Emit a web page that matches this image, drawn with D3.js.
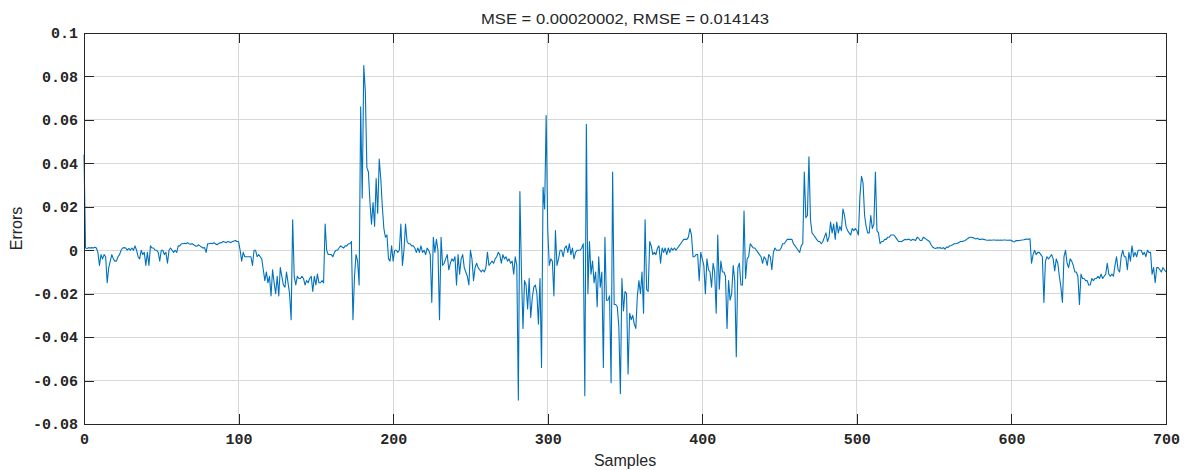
<!DOCTYPE html>
<html>
<head>
<meta charset="utf-8">
<script src="https://cdn.jsdelivr.net/npm/d3@7"></script>
<style>
  body { margin: 0; background: #fff; }
  .tick text { font-family: "Liberation Mono", "DejaVu Sans Mono", monospace; font-weight: bold; font-size: 15px; fill: #262626; }
  .lbl { font-family: "Liberation Sans", Arial, sans-serif; fill: #262626; }
</style>
</head>
<body>
<svg id="chart" width="1188" height="470"></svg>
<script>
var w = 1188;
var h = 470;

// prediction error per sample (sample index = position)
var errors = [
  0.044, 0.001, 0.0008, 0.0012, 0.001, 0.0012, 0.001, 0.0014, 0.001, -0.001,
  -0.007, -0.002, -0.004, -0.002, -0.003, -0.015, -0.008, -0.005, -0.002, -0.004,
  -0.005, -0.005, -0.003, -0.002, 0.0, 0.001, 0.0012, 0.001, 0.0, 0.0008,
  0.0, 0.001, 0.0, 0.002, 0.0, -0.003, -0.004, 0.0, -0.002, -0.001,
  -0.007, -0.001, -0.007, 0.002, 0.001, 0.001, 0.0, 0.0, -0.001, -0.005,
  0.0, 0.0, -0.002, -0.001, -0.006, 0.0, 0.001, 0.0, -0.001, 0.0,
  -0.001, 0.002, 0.002, 0.003, 0.003, 0.0032, 0.003, 0.0035, 0.003, 0.0028,
  0.003, 0.0025, 0.002, 0.0018, 0.0025, 0.002, 0.0015, 0.001, 0.0012, -0.001,
  0.003, 0.003, 0.0032, 0.003, 0.0035, 0.003, 0.0025, 0.003, 0.0034, 0.0035,
  0.004, 0.0038, 0.0035, 0.004, 0.0038, 0.0035, 0.004, 0.0042, 0.0045, 0.004,
  0.004, 0.0, -0.005, -0.001, -0.003, -0.003, -0.003, -0.003, -0.003, -0.007,
  0.0, 0.0, -0.003, -0.002, -0.003, -0.004, -0.009, -0.014, -0.01, -0.015,
  -0.012, -0.021, -0.009, -0.015, -0.02, -0.012, -0.021, -0.008, -0.012, -0.016,
  -0.017, -0.01, -0.015, -0.02, -0.032, 0.014, -0.012, -0.016, -0.012, -0.013,
  -0.013, -0.012, -0.013, -0.016, -0.014, -0.015, -0.013, -0.012, -0.019, -0.012,
  -0.016, -0.011, -0.015, -0.015, -0.014, -0.015, 0.012, 0.0, -0.002, -0.002,
  -0.002, -0.003, -0.001, 0.0, 0.0, 0.001, 0.002, 0.0015, 0.001, 0.002,
  0.002, 0.003, 0.003, 0.004, -0.032, -0.012, -0.002, -0.005, -0.016, 0.066,
  0.024, 0.085, 0.073, 0.038, 0.036, 0.022, 0.012, 0.022, 0.011, 0.033,
  0.017, 0.042, 0.033, 0.02, 0.01, 0.006, 0.007, -0.004, -0.005, 0.002,
  -0.005, 0.0, 0.0, -0.001, 0.0, 0.012, -0.007, 0.0, 0.012, 0.004,
  0.003, 0.003, 0.002, 0.002, 0.001, -0.001, 0.001, -0.001, 0.002, -0.001,
  0.0, -0.002, 0.001, 0.0, -0.002, -0.024, 0.006, -0.001, 0.005, 0.0,
  -0.032, 0.006, -0.007, -0.006, -0.004, -0.002, -0.009, -0.006, -0.004, -0.005,
  -0.003, -0.016, -0.002, -0.011, -0.004, -0.002, -0.008, -0.01, -0.012, -0.016,
  0.0, -0.004, -0.014, -0.008, -0.006, -0.008, -0.009, -0.01, -0.009, -0.01,
  -0.008, -0.001, -0.007, -0.006, -0.005, -0.006, -0.004, -0.003, -0.001, -0.002,
  -0.006, -0.002, -0.004, -0.003, -0.005, -0.004, -0.006, -0.005, -0.011, -0.003,
  -0.007, -0.069, 0.027, -0.01, -0.036, -0.014, -0.016, -0.027, -0.013, -0.031,
  -0.022, -0.017, -0.016, -0.02, -0.034, -0.013, -0.054, 0.029, 0.019, 0.062,
  0.01, -0.007, -0.004, -0.005, -0.021, 0.009, -0.007, -0.004, 0.0, 0.0,
  -0.003, 0.001, 0.002, -0.001, 0.003, -0.002, 0.001, -0.004, -0.001, 0.0,
  0.0, 0.0, 0.001, 0.003, -0.067, 0.058, -0.02, 0.004, -0.011, -0.005,
  -0.015, -0.01, -0.026, -0.003, -0.017, -0.01, -0.054, 0.006, -0.023, -0.023,
  -0.021, -0.061, 0.036, -0.025, -0.025, -0.026, -0.035, -0.066, -0.013, -0.028,
  -0.019, -0.02, -0.057, -0.029, -0.032, -0.03, -0.034, -0.036, -0.021, -0.014,
  -0.02, -0.01, -0.029, 0.014, -0.018, -0.019, 0.004, 0.002, -0.002, -0.001,
  -0.002, 0.001, 0.002, -0.006, 0.001, -0.001, 0.001, -0.002, 0.001, -0.001,
  0.001, 0.0, 0.001, 0.0, 0.001, 0.002, 0.003, 0.004, 0.005, 0.005,
  0.005, 0.006, 0.01, 0.007, -0.003, -0.003, -0.002, -0.002, -0.014, -0.001,
  -0.004, -0.007, -0.02, -0.004, -0.009, -0.01, -0.017, -0.006, -0.01, -0.029,
  0.007, -0.018, -0.005, -0.01, -0.01, -0.012, -0.036, -0.014, -0.023, -0.02,
  -0.007, -0.014, -0.049, -0.008, -0.006, -0.016, -0.016, 0.018, -0.013, -0.004,
  -0.003, 0.003, 0.002, 0.001, 0.001, 0.0, -0.001, -0.002, -0.003, -0.006,
  -0.003, -0.004, -0.007, -0.002, -0.003, -0.009, -0.001, 0.001, 0.0, 0.0,
  0.0, 0.001, 0.003, 0.003, 0.004, 0.005, 0.005, 0.005, 0.005, 0.003,
  0.002, 0.001, 0.0, -0.001, 0.002, 0.003, 0.036, 0.015, 0.016, 0.043,
  0.014, 0.008, 0.007, 0.006, 0.005, 0.004, 0.004, 0.003, 0.004, 0.006,
  0.008, 0.004, 0.006, 0.013, 0.008, 0.012, 0.005, 0.013, 0.008, 0.011,
  0.009, 0.019, 0.016, 0.011, 0.009, 0.008, 0.007, 0.01, 0.009, 0.01,
  0.009, 0.007, 0.025, 0.034, 0.031, 0.016, 0.011, 0.008, 0.008, 0.016,
  0.01, 0.012, 0.036, 0.009, 0.008, 0.003, 0.004, 0.004, 0.005, 0.005,
  0.006, 0.006, 0.007, 0.007, 0.007, 0.006, 0.005, 0.004, 0.004, 0.004,
  0.0045, 0.005, 0.0048, 0.005, 0.005, 0.0045, 0.005, 0.0048, 0.0045, 0.006,
  0.0055, 0.0045, 0.0045, 0.006, 0.0055, 0.005, 0.0045, 0.004, 0.0025, 0.0015,
  0.001, 0.0008, 0.0012, 0.001, 0.0012, 0.0008, 0.0012, 0.0005, 0.0015, 0.0013,
  0.002, 0.0022, 0.0025, 0.003, 0.003, 0.0032, 0.0035, 0.004, 0.004, 0.0042,
  0.0045, 0.005, 0.0055, 0.006, 0.006, 0.0058, 0.0055, 0.0052, 0.0055, 0.005,
  0.005, 0.0052, 0.005, 0.0048, 0.0046, 0.0046, 0.0047, 0.0046, 0.0047, 0.0047,
  0.0046, 0.0047, 0.0046, 0.0047, 0.0046, 0.0047, 0.0047, 0.0046, 0.0046, 0.0047,
  0.0045, 0.004, 0.0038, 0.0045, 0.0044, 0.0045, 0.0046, 0.0047, 0.0048, 0.005,
  0.0052, 0.005, 0.0053, -0.006, -0.002, 0.0, -0.002, -0.001, -0.001, -0.002,
  -0.003, -0.024, -0.005, -0.003, -0.004, -0.003, -0.002, -0.004, -0.0095, -0.004,
  -0.006, -0.012, -0.017, -0.024, -0.003, 0.0, -0.006, -0.008, -0.004, -0.005,
  -0.007, -0.01, -0.01, -0.012, -0.025, -0.011, -0.013, -0.013, -0.014, -0.014,
  -0.016, -0.016, -0.013, -0.014, -0.013, -0.013, -0.012, -0.013, -0.011, -0.013,
  -0.012, -0.011, -0.006, -0.011, -0.012, -0.011, -0.012, -0.007, -0.003, -0.009,
  -0.01, -0.003, 0.0, -0.003, -0.003, -0.009, -0.001, -0.005, 0.002, -0.003,
  -0.001, -0.003, 0.0, 0.0, 0.0, -0.002, -0.001, -0.003, 0.0, -0.001,
  -0.001, -0.011, -0.008, -0.015, -0.008, -0.008, -0.009, -0.01, -0.008, -0.009,
  -0.01
];
var xTicks = [0, 100, 200, 300, 400, 500, 600, 700];
var yTicks = [-0.08, -0.06, -0.04, -0.02, 0, 0.02, 0.04, 0.06, 0.08, 0.1];
var yTickLabels = ["-0.08", "-0.06", "-0.04", "-0.02", "0", "0.02", "0.04", "0.06", "0.08", "0.1"];
var title = "MSE = 0.00020002, RMSE = 0.014143";

// plot box (note: "top" is taken by window.top, so use pl/pr/pt/pb)
var pl = 84, pr = 1166, pt = 33, pb = 424;
var axisColor = "#262626";

var x = d3.scaleLinear().domain([0, 700]).range([pl, pr]);
var y = d3.scaleLinear().domain([-0.08, 0.1]).range([pb, pt]);

var svg = d3.select("#chart").attr("width", w).attr("height", h);

//grid
var grid = svg.append("g").attr("class", "grid");
grid.selectAll("line.gx")
    .data(xTicks.slice(1, -1))
    .enter().append("line")
    .attr("class", "gx")
    .attr("x1", d => x(d)).attr("x2", d => x(d))
    .attr("y1", pt).attr("y2", pb);
grid.selectAll("line.gy")
    .data(yTicks.slice(1, -1))
    .enter().append("line")
    .attr("class", "gy")
    .attr("x1", pl).attr("x2", pr)
    .attr("y1", d => y(d)).attr("y2", d => y(d));
grid.selectAll("line")
    .attr("stroke", "#d7d7d7")
    .attr("stroke-width", 1)
    .attr("shape-rendering", "crispEdges");

//error line
var line = d3.line()
    .x((d, i) => x(i))
    .y(d => y(d));
svg.append("path")
    .datum(errors)
    .attr("fill", "none")
    .attr("stroke", "#0072BD")
    .attr("stroke-width", 1.1)
    .attr("stroke-linejoin", "round")
    .attr("d", line);

//axes with inward ticks on all four sides
var fmt = d => yTickLabels[yTicks.indexOf(d)];
svg.append("g")
    .attr("transform", `translate(0,${pb})`)
    .call(d3.axisBottom(x).tickValues(xTicks).tickSize(-10).tickSizeOuter(0).tickPadding(9).tickFormat(d3.format("d")));
svg.append("g")
    .attr("transform", `translate(${pl},0)`)
    .call(d3.axisLeft(y).tickValues(yTicks).tickSize(-10).tickSizeOuter(0).tickPadding(6).tickFormat(fmt));
svg.append("g")
    .attr("transform", `translate(0,${pt})`)
    .call(d3.axisTop(x).tickValues(xTicks).tickSize(-10).tickSizeOuter(0).tickFormat(""));
svg.append("g")
    .attr("transform", `translate(${pr},0)`)
    .call(d3.axisRight(y).tickValues(yTicks).tickSize(-10).tickSizeOuter(0).tickFormat(""));

svg.selectAll(".domain, .tick line")
    .attr("stroke", axisColor)
    .attr("shape-rendering", "crispEdges");
svg.selectAll(".tick text").attr("font-family", null).attr("font-size", null).attr("fill", axisColor);

//title and axis labels
svg.append("text")
    .attr("class", "lbl")
    .attr("x", (pl + pr) / 2)
    .attr("y", 24)
    .attr("text-anchor", "middle")
    .attr("font-size", 15)
    .attr("textLength", 288)
    .attr("lengthAdjust", "spacingAndGlyphs")
    .text(title);
svg.append("text")
    .attr("class", "lbl")
    .attr("x", (pl + pr) / 2)
    .attr("y", 466)
    .attr("text-anchor", "middle")
    .attr("font-size", 16)
    .text("Samples");
svg.append("text")
    .attr("class", "lbl")
    .attr("transform", `translate(22,${(pt + pb) / 2}) rotate(-90)`)
    .attr("text-anchor", "middle")
    .attr("font-size", 16)
    .text("Errors");
</script>
</body>
</html>
